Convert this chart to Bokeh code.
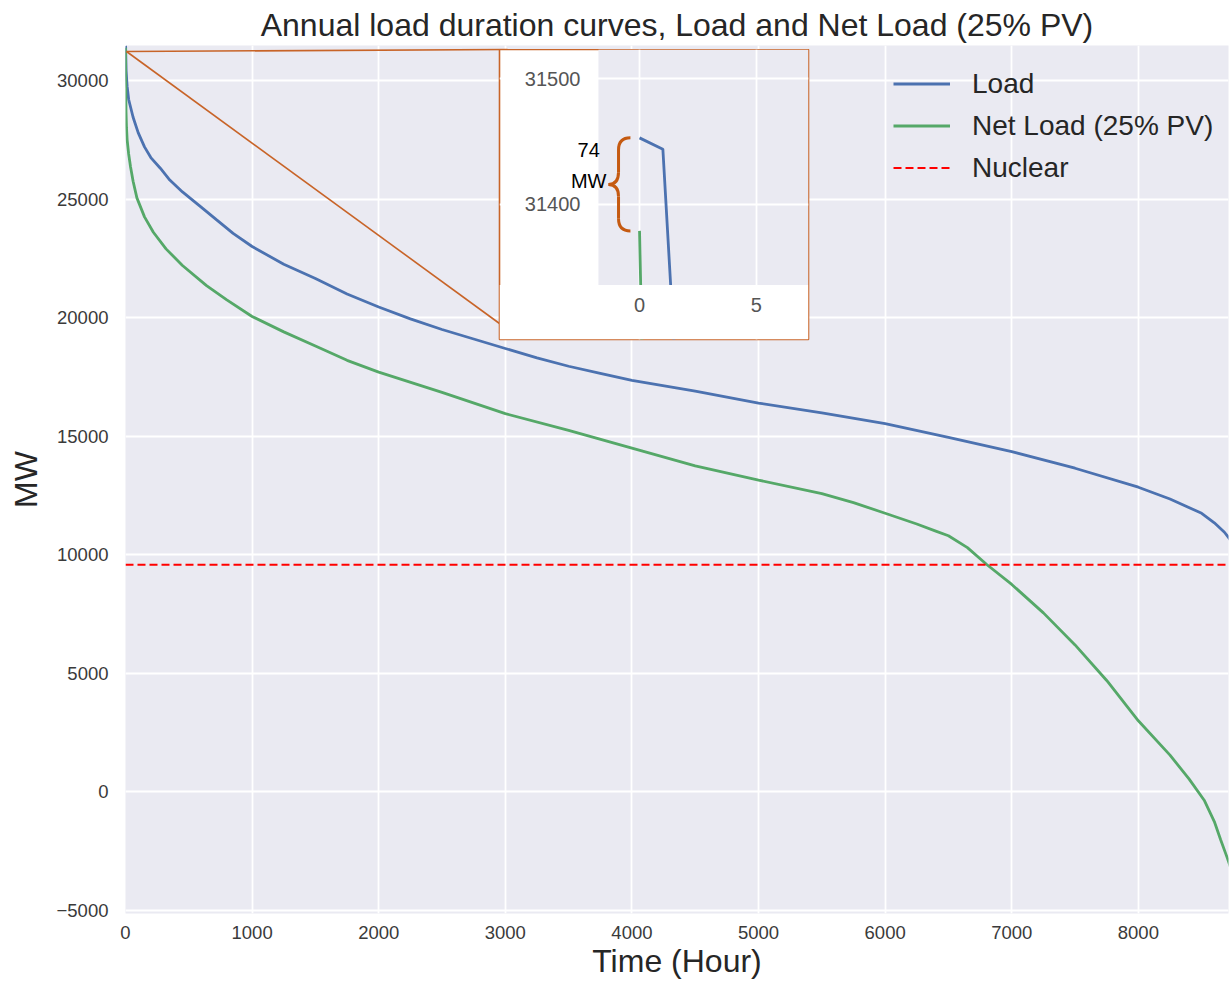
from bokeh.plotting import figure
from bokeh.models import Range1d, FixedTicker, Legend, LegendItem, Label
from bokeh.layouts import column
from bokeh.embed import file_html
from bokeh.resources import INLINE

# ---------------- data ----------------
load_hours = [0, 1, 2, 5, 13, 25, 60, 100, 150, 200, 275, 350, 450, 520, 600,
              720, 850, 1000, 1250, 1500, 1750, 2000, 2250, 2500, 2750, 3000,
              3250, 3500, 3750, 4000, 4500, 5000, 5500, 6000, 6500, 7000, 7500,
              8000, 8250, 8500, 8600, 8680, 8728, 8760]
load_mw = [31453, 31444, 31120, 30400, 29750, 29200, 28450, 27800, 27200, 26750,
           26300, 25800, 25300, 25000, 24650, 24120, 23550, 23000, 22250, 21650,
           21000, 20450, 19950, 19500, 19100, 18700, 18300, 17950, 17650, 17350,
           16900, 16400, 15980, 15530, 14950, 14350, 13650, 12850, 12350, 11750,
           11350, 10950, 10620, 10350]

net_hours = [0, 1, 2, 4, 8, 13, 25, 40, 60, 90, 150, 220, 320, 450, 640, 800,
             1000, 1250, 1500, 1750, 2000, 2500, 3000, 3500, 4000, 4500, 5000,
             5500, 5750, 6000, 6250, 6400, 6500, 6650, 6800, 7000, 7250, 7500,
             7750, 8000, 8250, 8400, 8520, 8600, 8650, 8700, 8728, 8760]
net_mw = [31379, 30500, 29700, 28700, 28000, 27500, 26900, 26350, 25750, 25050,
          24250, 23600, 22900, 22200, 21350, 20750, 20050, 19400, 18800, 18200,
          17700, 16850, 15950, 15250, 14500, 13750, 13150, 12580, 12200, 11750,
          11300, 11000, 10800, 10300, 9600, 8750, 7550, 6200, 4700, 3000, 1550,
          550, -350, -1250, -2020, -2750, -3180, -3700]

nuclear_mw = 9580

x_ticks = [0, 1000, 2000, 3000, 4000, 5000, 6000, 7000, 8000]
y_ticks = [-5000, 0, 5000, 10000, 15000, 20000, 25000, 30000]
inset_x_ticks = [0, 5]
inset_y_ticks = [31400, 31500]

labels = ["Load", "Net Load (25% PV)", "Nuclear"]
title_text = "Annual load duration curves, Load and Net Load (25% PV)"

# ---------------- style ----------------
FONT = "Liberation Sans"
BG = "#EAEAF2"
BLUE = "#4C72B0"
GREEN = "#55A868"
RED = "#FF0000"
ORANGE = "#C86428"
BRACE = "#C55A11"
TEXT = "#262626"
TICK = "#3a3a3a"

X_RANGE = (0, 8712)
Y_RANGE = (-5127, 31476)
W, H = 1230, 984
BL, BR, BT, BB = 125, 2, 45, 71
FW, FH = W - BL - BR, H - BT - BB

p = figure(width=W, height=H, x_range=Range1d(*X_RANGE), y_range=Range1d(*Y_RANGE),
           output_backend="svg", toolbar_location=None,
           min_border_left=BL, min_border_right=BR, min_border_top=BT,
           min_border_bottom=BB, background_fill_color=BG,
           border_fill_color="white", outline_line_color=None,
           title=title_text)

p.title.text_font = FONT
p.title.text_font_size = "32px"
p.title.text_font_style = "normal"
p.title.text_color = TEXT
p.title.align = "center"
p.title.standoff = 5

p.xaxis.ticker = FixedTicker(ticks=x_ticks)
p.yaxis.ticker = FixedTicker(ticks=y_ticks)
p.yaxis.major_label_overrides = {t: str(t).replace("-", "\u2212") for t in y_ticks}
for ax in (p.xaxis[0], p.yaxis[0]):
    ax.axis_line_color = None
    ax.major_tick_line_color = None
    ax.minor_tick_line_color = None
    ax.major_tick_out = 0
    ax.major_tick_in = 0
    ax.major_label_text_font = FONT
    ax.major_label_text_font_size = "18.5px"
    ax.major_label_text_color = TICK
    ax.axis_label_text_font = FONT
    ax.axis_label_text_font_size = "32px"
    ax.axis_label_text_font_style = "normal"
    ax.axis_label_text_color = TEXT
p.xaxis.axis_label = "Time (Hour)"
p.yaxis.axis_label = "MW"
p.xaxis.major_label_standoff = 12
p.xaxis.axis_label_standoff = 1
p.yaxis.major_label_standoff = 17
p.yaxis.axis_label_standoff = 10

p.xgrid.grid_line_color = "white"
p.ygrid.grid_line_color = "white"
p.xgrid.grid_line_width = 1.8
p.ygrid.grid_line_width = 1.8

r_load = p.line(load_hours, load_mw, line_color=BLUE, line_width=2.8)
r_net = p.line(net_hours, net_mw, line_color=GREEN, line_width=2.8)
r_nuc = p.line([load_hours[0], load_hours[-1]], [nuclear_mw, nuclear_mw],
               line_color=RED, line_width=2.0, line_dash="8 4")


# zoom connector lines (positions from page pixels of the inset box)
def page_to_data(px, py):
    x = X_RANGE[0] + (px - BL) / FW * (X_RANGE[1] - X_RANGE[0])
    y = Y_RANGE[1] - (py - BT) / FH * (Y_RANGE[1] - Y_RANGE[0])
    return x, y


INSET_LEFT, INSET_TOP, INSET_W, INSET_H = 499, 49, 309, 290
ox, oy = page_to_data(126, 51)
tx, ty = page_to_data(INSET_LEFT + 8, INSET_TOP)
dx, dy = page_to_data(INSET_LEFT, 323)
p.segment(x0=[ox, ox], y0=[oy, oy], x1=[tx, dx], y1=[ty, dy],
          line_color=ORANGE, line_width=1.6)

legend = Legend(items=[LegendItem(label=labels[0], renderers=[r_load]),
                       LegendItem(label=labels[1], renderers=[r_net]),
                       LegendItem(label=labels[2], renderers=[r_nuc])],
                location=(768, 725))
legend.label_text_font = FONT
legend.label_text_font_size = "28px"
legend.label_text_color = TEXT
legend.border_line_color = None
legend.background_fill_alpha = 0
legend.glyph_width = 57
legend.glyph_height = 41
legend.label_height = 41
legend.spacing = 1
legend.label_standoff = 22
legend.padding = 0
legend.margin = 0
p.add_layout(legend)

# ---------------- inset ----------------
IX = (-6.0, 7.24)         # whole inset box (white part on the left)
IY = (31292.6, 31523.3)
IAX0 = -1.76              # left edge of the inset's grey axes area
IAY0 = 31336              # bottom edge of the inset's grey axes area
PAD_L, PAD_R, PAD_B = BL, BR, 60   # transparent side panels (aligned with main)
pi = figure(width=PAD_L + INSET_W + PAD_R, height=INSET_H + PAD_B,
            x_range=Range1d(*IX), y_range=Range1d(*IY),
            output_backend="svg", toolbar_location=None,
            min_border_left=PAD_L, min_border_right=PAD_R, min_border_top=0,
            min_border_bottom=PAD_B, background_fill_color="white",
            border_fill_alpha=0, outline_line_color=ORANGE,
            outline_line_width=1.6)
grey = pi.quad(left=[IAX0], right=[IX[1]], bottom=[IAY0], top=[IY[1]],
               fill_color=BG, line_color=None)
grey.level = "image"
pi.xaxis.ticker = FixedTicker(ticks=inset_x_ticks)
pi.yaxis.ticker = FixedTicker(ticks=inset_y_ticks)
pi.yaxis.fixed_location = IAX0
pi.xaxis.fixed_location = IAY0
for ax in (pi.xaxis[0], pi.yaxis[0]):
    ax.axis_line_color = None
    ax.major_tick_line_color = None
    ax.minor_tick_line_color = None
    ax.major_tick_out = 0
    ax.major_tick_in = 0
    ax.major_label_text_font = FONT
    ax.major_label_text_font_size = "20px"
    ax.major_label_text_color = "#555555"
pi.xaxis.major_label_standoff = 13
pi.yaxis.major_label_standoff = 18
pi.xgrid.grid_line_color = "white"
pi.ygrid.grid_line_color = "white"
pi.xgrid.grid_line_width = 1.8
pi.ygrid.grid_line_width = 1.8

pi.line(load_hours, load_mw, line_color=BLUE, line_width=2.8)
pi.line(net_hours, net_mw, line_color=GREEN, line_width=2.8)
# white mask below the grey axes area (curves are clipped at its bottom)
pi.quad(left=[IX[0]], right=[IX[1]], bottom=[IY[0]], top=[IAY0],
        fill_color="white", line_color=None)

# curly brace spanning the gap between the two peaks
ytop, ybot = load_mw[0], net_mw[0]
ymid = (ytop + ybot) / 2
d = (ytop - ybot) * 0.13
x_tip, x_sp, x_c = -0.39, -0.9, -1.33
pi.quadratic(x0=[x_tip, x_sp, x_c, x_sp], y0=[ytop, ymid + d, ymid, ybot + d],
             x1=[x_sp, x_c, x_sp, x_tip], y1=[ytop - d, ymid, ymid - d, ybot],
             cx=[x_sp, x_sp, x_sp, x_sp], cy=[ytop, ymid, ymid, ybot],
             line_color=BRACE, line_width=3)
pi.segment(x0=[x_sp, x_sp], y0=[ytop - d, ymid - d], x1=[x_sp, x_sp],
           y1=[ymid + d, ybot + d], line_color=BRACE, line_width=3)
gap = round(ytop - ybot)
pi.add_layout(Label(x=-2.18, y=ymid + 0.365 * (ytop - ybot), text=str(gap),
                    text_align="center", text_baseline="middle",
                    text_font=FONT, text_font_size="20px", text_color="black"))
pi.add_layout(Label(x=-2.18, y=ymid + 0.04 * (ytop - ybot), text="MW",
                    text_align="center", text_baseline="middle",
                    text_font=FONT, text_font_size="20px", text_color="black"))

pi.styles = {"position": "absolute", "left": f"{INSET_LEFT - PAD_L}px",
             "top": f"{INSET_TOP}px", "z-index": "10"}

layout = column(p, pi)
open("out.html", "w").write(file_html(layout, INLINE))
